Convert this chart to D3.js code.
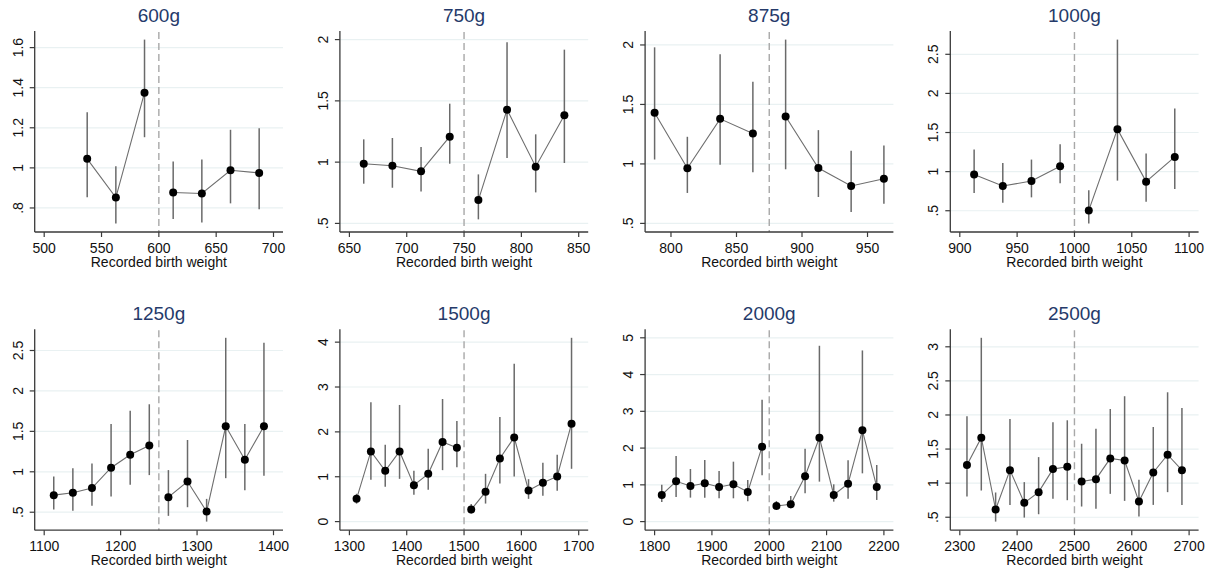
<!DOCTYPE html>
<html>
<head>
<meta charset="utf-8">
<script src="https://cdn.jsdelivr.net/npm/d3@7"></script>
<style>
  body { margin: 0; background: #fff; }
  svg { display: block; font-family: "Liberation Sans", Arial, sans-serif; }
</style>
</head>
<body>
<svg id="chart" width="1216" height="577"></svg>
<script>
// data: bin midpoints, estimate, lower / upper CI

const cutoffs = [600, 750, 875, 1000, 1250, 1500, 2000, 2500]

const bins600 = [537.5, 562.5, 587.5, 612.5, 637.5, 662.5, 687.5]
const est600  = [1.045, 0.852, 1.375, 0.877, 0.872, 0.988, 0.975]
const lo600   = [0.853, 0.723, 1.153, 0.745, 0.728, 0.823, 0.793]
const hi600   = [1.278, 1.008, 1.640, 1.032, 1.042, 1.190, 1.198]

const bins750 = [662.5, 687.5, 712.5, 737.5, 762.5, 787.5, 812.5, 837.5]
const est750  = [0.987, 0.971, 0.925, 1.208, 0.690, 1.428, 0.963, 1.382]
const lo750   = [0.824, 0.791, 0.761, 0.987, 0.533, 1.033, 0.753, 0.993]
const hi750   = [1.186, 1.197, 1.123, 1.477, 0.900, 1.978, 1.227, 1.918]

const bins875 = [787.5, 812.5, 837.5, 862.5, 887.5, 912.5, 937.5, 962.5]
const est875  = [1.430, 0.963, 1.379, 1.256, 1.399, 0.966, 0.815, 0.876]
const lo875   = [1.037, 0.756, 0.994, 0.930, 0.955, 0.722, 0.596, 0.666]
const hi875   = [1.980, 1.228, 1.921, 1.691, 2.045, 1.284, 1.110, 1.154]

const bins1000 = [912.5, 937.5, 962.5, 987.5, 1012.5, 1037.5, 1062.5, 1087.5]
const est1000  = [0.962, 0.816, 0.880, 1.068, 0.504, 1.543, 0.872, 1.188]
const lo1000   = [0.726, 0.603, 0.671, 0.850, 0.338, 0.885, 0.615, 0.778]
const hi1000   = [1.282, 1.111, 1.154, 1.350, 0.761, 2.688, 1.231, 1.808]

const bins1250 = [1112.5, 1137.5, 1162.5, 1187.5, 1212.5, 1237.5, 1262.5, 1287.5, 1312.5, 1337.5, 1362.5, 1387.5]
const est1250  = [0.711, 0.740, 0.798, 1.050, 1.211, 1.326, 0.686, 0.880, 0.508, 1.562, 1.149, 1.562]
const lo1250   = [0.533, 0.517, 0.579, 0.694, 0.839, 0.959, 0.455, 0.562, 0.384, 0.921, 0.773, 0.950]
const hi1250   = [0.942, 1.045, 1.103, 1.591, 1.756, 1.835, 1.021, 1.393, 0.665, 2.657, 1.591, 2.595]

const bins1500 = [1312.5, 1337.5, 1362.5, 1387.5, 1412.5, 1437.5, 1462.5, 1487.5, 1512.5, 1537.5, 1562.5, 1587.5, 1612.5, 1637.5, 1662.5, 1687.5]
const est1500  = [0.507, 1.564, 1.132, 1.564, 0.812, 1.065, 1.773, 1.646, 0.268, 0.663, 1.408, 1.877, 0.693, 0.864, 1.006, 2.182]
const lo1500   = [0.400, 0.931, 0.775, 0.953, 0.596, 0.708, 1.147, 1.214, 0.180, 0.402, 0.849, 1.006, 0.507, 0.574, 0.685, 1.177]
const hi1500   = [0.620, 2.659, 1.713, 2.600, 1.132, 1.624, 2.733, 2.242, 0.390, 1.065, 2.331, 3.516, 0.946, 1.311, 1.490, 4.097]

const bins2000 = [1812.5, 1837.5, 1862.5, 1887.5, 1912.5, 1937.5, 1962.5, 1987.5, 2012.5, 2037.5, 2062.5, 2087.5, 2112.5, 2137.5, 2162.5, 2187.5]
const est2000  = [0.725, 1.096, 0.969, 1.042, 0.942, 1.014, 0.806, 2.038, 0.426, 0.471, 1.232, 2.283, 0.725, 1.033, 2.482, 0.942]
const lo2000   = [0.534, 0.670, 0.652, 0.652, 0.634, 0.634, 0.553, 1.259, 0.344, 0.362, 0.770, 1.087, 0.543, 0.625, 1.313, 0.589]
const hi2000   = [1.005, 1.784, 1.431, 1.676, 1.377, 1.630, 1.132, 3.315, 0.560, 0.697, 1.984, 4.783, 1.014, 1.667, 4.656, 1.540]

const bins2500 = [2312.5, 2337.5, 2362.5, 2387.5, 2412.5, 2437.5, 2462.5, 2487.5, 2512.5, 2537.5, 2562.5, 2587.5, 2612.5, 2637.5, 2662.5, 2687.5]
const est2500  = [1.265, 1.667, 0.613, 1.191, 0.711, 0.868, 1.206, 1.240, 1.025, 1.059, 1.363, 1.333, 0.730, 1.157, 1.417, 1.191]
const lo2500   = [0.804, 0.892, 0.436, 0.681, 0.495, 0.544, 0.770, 0.750, 0.657, 0.623, 0.843, 0.740, 0.510, 0.681, 0.868, 0.681]
const hi2500   = [1.980, 3.132, 0.863, 1.941, 1.015, 1.382, 1.892, 1.922, 1.578, 1.799, 2.088, 2.275, 1.049, 1.824, 2.333, 2.103]

// axis ticks
const xticks = [
  [500, 550, 600, 650, 700],
  [650, 700, 750, 800, 850],
  [800, 850, 900, 950],
  [900, 950, 1000, 1050, 1100],
  [1100, 1200, 1300, 1400],
  [1300, 1400, 1500, 1600, 1700],
  [1800, 1900, 2000, 2100, 2200],
  [2300, 2400, 2500, 2600, 2700]
]
const yticks = [
  [0.8, 1, 1.2, 1.4, 1.6],
  [0.5, 1, 1.5, 2],
  [0.5, 1, 1.5, 2],
  [0.5, 1, 1.5, 2, 2.5],
  [0.5, 1, 1.5, 2, 2.5],
  [0, 1, 2, 3, 4],
  [0, 1, 2, 3, 4, 5],
  [0.5, 1, 1.5, 2, 2.5, 3]
]

const series = [
  [bins600, est600, lo600, hi600],
  [bins750, est750, lo750, hi750],
  [bins875, est875, lo875, hi875],
  [bins1000, est1000, lo1000, hi1000],
  [bins1250, est1250, lo1250, hi1250],
  [bins1500, est1500, lo1500, hi1500],
  [bins2000, est2000, lo2000, hi2000],
  [bins2500, est2500, lo2500, hi2500]
]

// layout

const PANEL_W = 305.2, ROW_H = 298.2
const PLOT = { left: 34.7, right: 283, top: 31, bottom: 232 }
const PAD_X = 9.5, PAD_Y = 8.6

const GRID = '#e9f1f2', AXIS = '#3a3a3a', TITLE = '#253a6a'

const root = d3.select('#chart')

// stata style labels: .5 rather than 0.5
const yfmt = (v) => String(v).replace(/^0\./, '.')

series.forEach(([bins, est, lo, hi], i) => {
  const col = i % 4, row = Math.floor(i / 4)
  const g = root.append('g')
    .attr('transform', 'translate(' + [col * PANEL_W, row * ROW_H] + ')')

  const data = bins.map((b, k) => ({ x: b, y: est[k], lo: lo[k], hi: hi[k] }))
  const cut = cutoffs[i]

  const xd = d3.extent(xticks[i].concat(bins))
  const yd = d3.extent(yticks[i].concat(lo, hi))

  const x = d3.scaleLinear().domain(xd).range([PLOT.left + PAD_X, PLOT.right - PAD_X])
  const y = d3.scaleLinear().domain(yd).range([PLOT.bottom - PAD_Y, PLOT.top + PAD_Y])

  // grid
  g.append('g').selectAll('line').data(yticks[i]).join('line')
    .attr('x1', PLOT.left).attr('x2', PLOT.right)
    .attr('y1', (d) => y(d)).attr('y2', (d) => y(d))
    .attr('stroke', GRID).attr('stroke-width', 1.2)

  // cutoff
  g.append('line')
    .attr('x1', x(cut)).attr('x2', x(cut))
    .attr('y1', PLOT.top + 1).attr('y2', PLOT.bottom)
    .attr('stroke', '#a8a8a8').attr('stroke-width', 1.4)
    .attr('stroke-dasharray', '7,4')

  // error bars
  g.append('g').selectAll('line').data(data).join('line')
    .attr('x1', (d) => x(d.x)).attr('x2', (d) => x(d.x))
    .attr('y1', (d) => y(d.lo)).attr('y2', (d) => y(d.hi))
    .attr('stroke', '#6a6a6a').attr('stroke-width', 1.5)

  // connecting lines, one each side of the cutoff
  const line = d3.line().x((d) => x(d.x)).y((d) => y(d.y))
  ;[data.filter((d) => d.x < cut), data.filter((d) => d.x > cut)].forEach((part) => {
    g.append('path').attr('d', line(part))
      .attr('fill', 'none').attr('stroke', '#6e6e6e').attr('stroke-width', 1.1)
  })

  g.append('g').selectAll('circle').data(data).join('circle')
    .attr('cx', (d) => x(d.x)).attr('cy', (d) => y(d.y)).attr('r', 4)
    .attr('fill', '#000')

  // axes
  const xa = g.append('g').attr('transform', 'translate(0,' + PLOT.bottom + ')')
  xa.append('line').attr('x1', PLOT.left).attr('x2', PLOT.right)
    .attr('stroke', AXIS).attr('stroke-width', 1.3)
  xa.selectAll('.tick').data(xticks[i]).join('g')
    .attr('class', 'tick')
    .attr('transform', (d) => 'translate(' + x(d) + ',0)')
    .call((t) => {
      t.append('line').attr('y2', 5).attr('stroke', AXIS).attr('stroke-width', 1.2)
      t.append('text').attr('y', 21).attr('text-anchor', 'middle')
        .attr('font-size', 14).attr('fill', '#111').text((d) => d)
    })
  xa.append('text')
    .attr('x', (PLOT.left + PLOT.right) / 2).attr('y', 35)
    .attr('text-anchor', 'middle').attr('font-size', 14).attr('fill', '#111')
    .text('Recorded birth weight')

  const ya = g.append('g').attr('transform', 'translate(' + PLOT.left + ',0)')
  ya.append('line').attr('y1', PLOT.top).attr('y2', PLOT.bottom)
    .attr('stroke', AXIS).attr('stroke-width', 1.3)
  ya.selectAll('.tick').data(yticks[i]).join('g')
    .attr('class', 'tick')
    .attr('transform', (d) => 'translate(0,' + y(d) + ')')
    .call((t) => {
      t.append('line').attr('x2', -5).attr('stroke', AXIS).attr('stroke-width', 1.2)
      t.append('text').attr('transform', 'translate(-12,0) rotate(-90)')
        .attr('text-anchor', 'middle')
        .attr('font-size', 14).attr('fill', '#111').text(yfmt)
    })

  // title
  g.append('text')
    .attr('x', (PLOT.left + PLOT.right) / 2).attr('y', 22)
    .attr('text-anchor', 'middle').attr('font-size', 19).attr('fill', TITLE)
    .text(cut + 'g')
})
</script>
</body>
</html>
